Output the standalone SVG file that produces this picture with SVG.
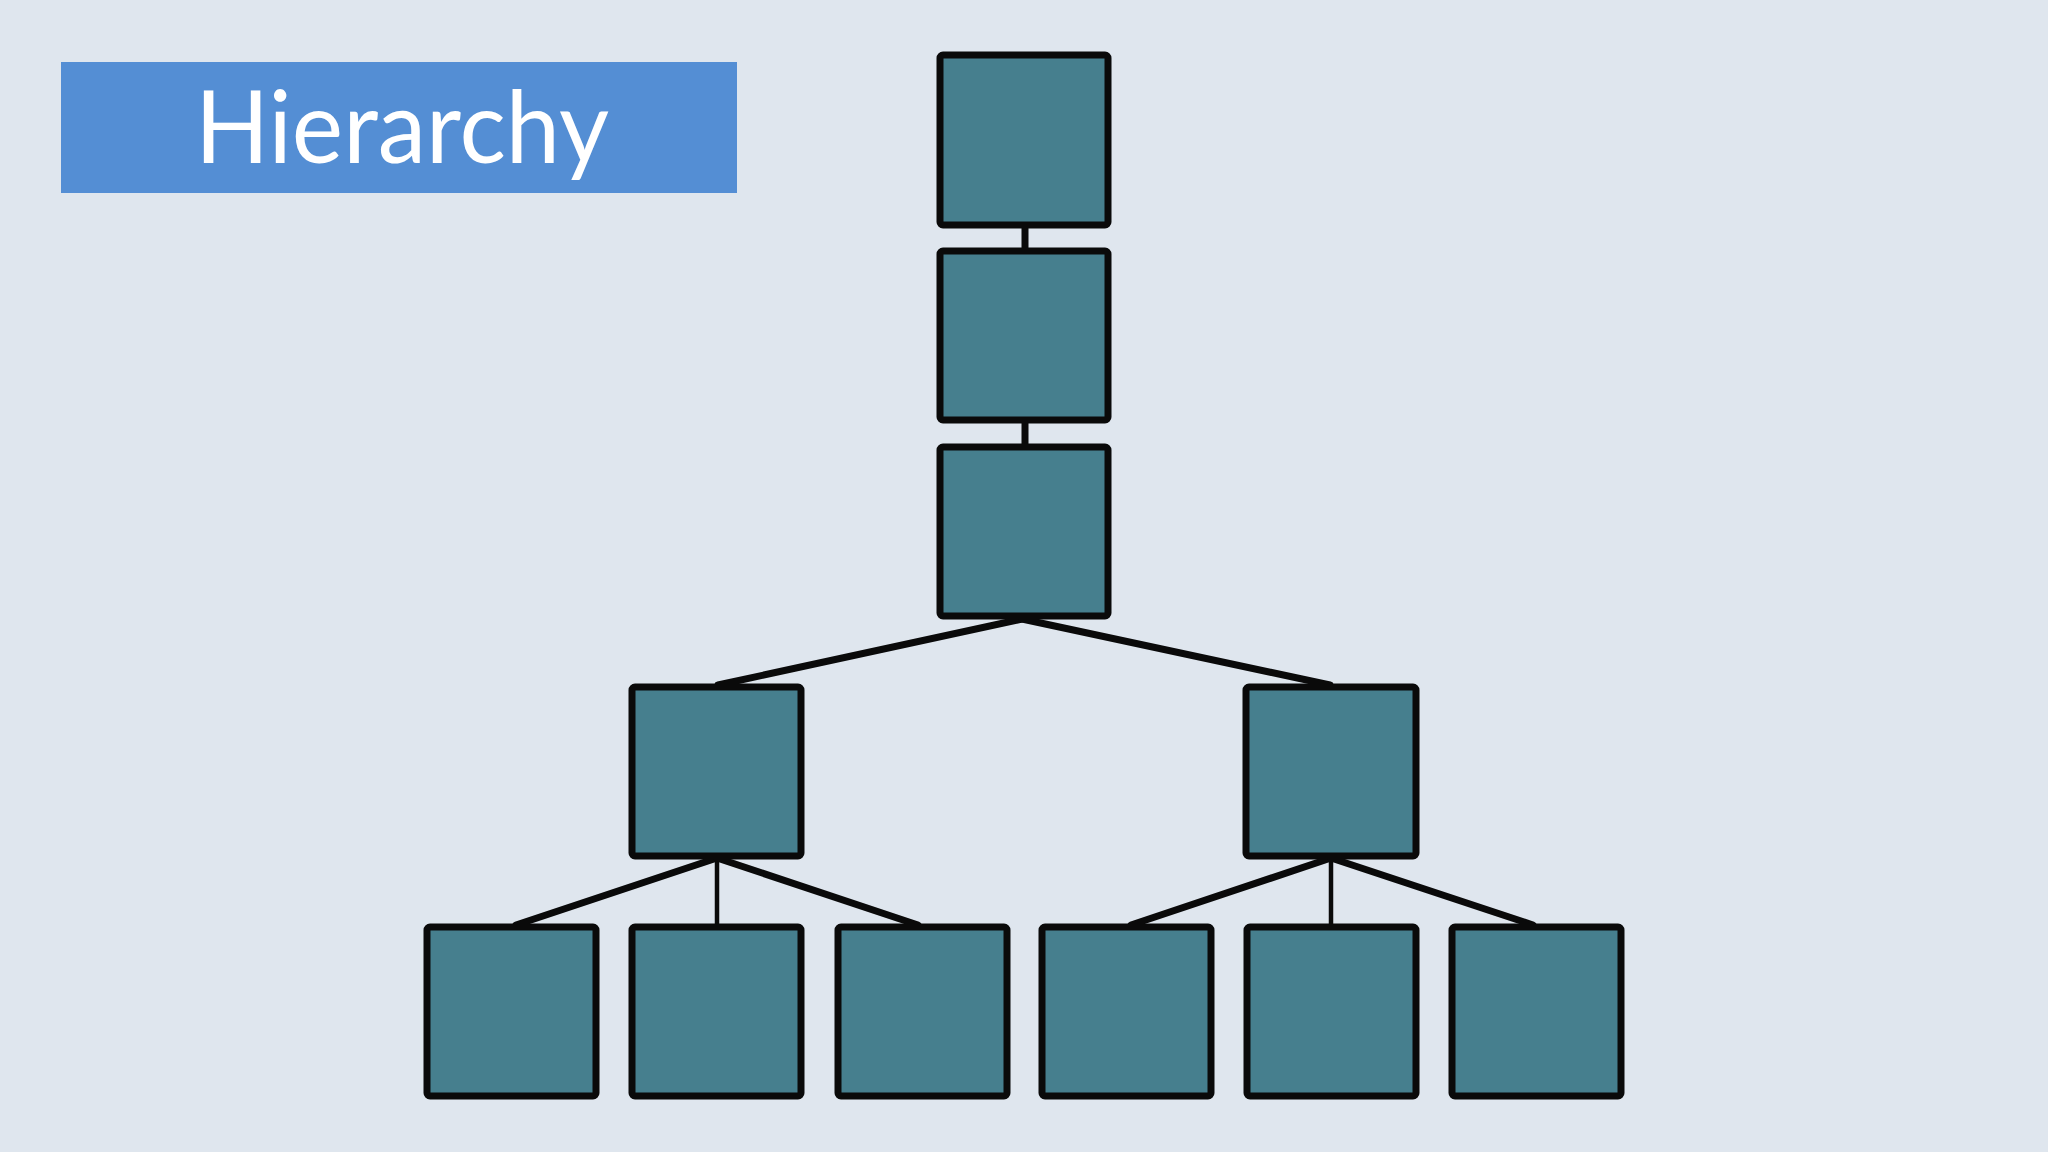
<svg xmlns="http://www.w3.org/2000/svg" width="2048" height="1152" viewBox="0 0 2048 1152">
<style>
.node{fill:#467f8e;stroke:#0a0a0a;stroke-width:7}
.thick{stroke:#0a0a0a;stroke-width:7;stroke-linecap:round;fill:none}
.thin{stroke:#0a0a0a;stroke-width:4.5;fill:none}
.title{font-family:Lato,"Open Sans","Liberation Sans",sans-serif;font-size:100px;fill:#ffffff}
</style>
<rect width="2048" height="1152" fill="#dfe6ee"/>
<g id="title">
<rect x="61" y="62" width="676" height="131" fill="#548ed4"/>
<text class="title" x="402" y="163" text-anchor="middle" textLength="414" lengthAdjust="spacingAndGlyphs">Hierarchy</text>
</g>
<g id="connectors">
<line class="thick" x1="1025" y1="226" x2="1025" y2="250"/>
<line class="thick" x1="1025" y1="421" x2="1025" y2="446"/>
<line class="thick" x1="1022" y1="619" x2="718" y2="685"/>
<line class="thick" x1="1022" y1="619" x2="1330" y2="685"/>
<line class="thick" x1="717" y1="858" x2="516" y2="925"/>
<line class="thin" x1="717" y1="858" x2="717" y2="925"/>
<line class="thick" x1="717" y1="858" x2="918" y2="925"/>
<line class="thick" x1="1331" y1="858" x2="1131" y2="925"/>
<line class="thin" x1="1331" y1="858" x2="1331" y2="925"/>
<line class="thick" x1="1331" y1="858" x2="1533" y2="925"/>
</g>
<g id="n1"><rect class="node" x="940" y="55" width="168" height="170" rx="3"/></g>
<g id="n2"><rect class="node" x="940" y="251" width="168" height="169" rx="3"/></g>
<g id="n3"><rect class="node" x="940" y="447" width="168" height="169" rx="3"/></g>
<g id="n4"><rect class="node" x="632" y="687" width="169" height="169" rx="3"/></g>
<g id="n5"><rect class="node" x="1246" y="687" width="170" height="169" rx="3"/></g>
<g id="n6"><rect class="node" x="427" y="927" width="169" height="169" rx="3"/></g>
<g id="n7"><rect class="node" x="632" y="927" width="169" height="169" rx="3"/></g>
<g id="n8"><rect class="node" x="838" y="927" width="169" height="169" rx="3"/></g>
<g id="n9"><rect class="node" x="1042" y="927" width="169" height="169" rx="3"/></g>
<g id="n10"><rect class="node" x="1247" y="927" width="169" height="169" rx="3"/></g>
<g id="n11"><rect class="node" x="1452" y="927" width="169" height="169" rx="3"/></g>
</svg>
